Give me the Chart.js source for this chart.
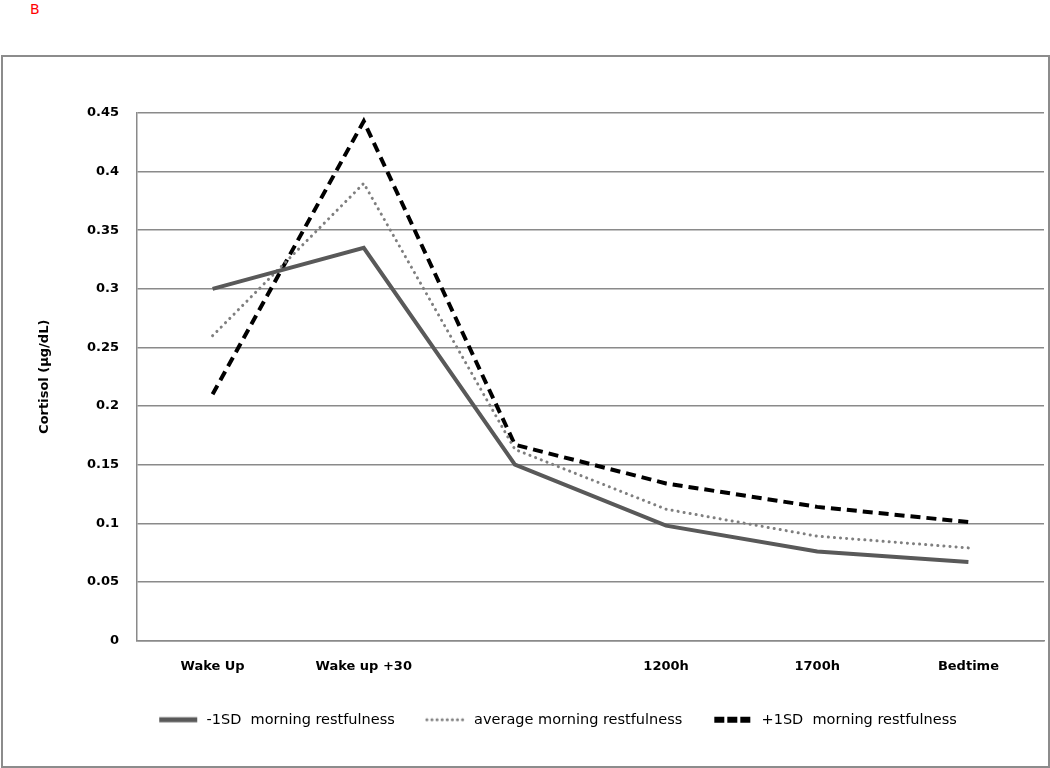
<!DOCTYPE html>
<html>
<head>
<meta charset="utf-8">
<script src="https://cdn.jsdelivr.net/npm/chart.js@4"></script>
<style>
    body { margin: 0; background: #fff; }
    #panel {
        position: absolute; left: 30px; top: 1px;
        font: 14px "DejaVu Sans", sans-serif; color: #ff0000;
    }
    #frame {
        position: absolute; left: 1px; top: 55px;
        width: 1045px; height: 709px;
        border: 2px solid #8c8c8c;
    }
    #wrap { position: absolute; left: 0; top: 0; width: 1050px; height: 768px; }
</style>
</head>
<body>
<div id="panel">B</div>
<div id="frame"></div>
<div id="wrap"><canvas id="cortisolChart"></canvas></div>
<script>
// Cortisol data
const timePoints = ['Wake Up', 'Wake up +30', '', '1200h', '1700h', 'Bedtime'];
const lowRest = [0.300, 0.335, 0.150, 0.098, 0.076, 0.067];
const avgRest = [0.260, 0.390, 0.163, 0.112, 0.089, 0.079];
const highRest = [0.210, 0.443, 0.167, 0.134, 0.114, 0.101];
const seriesNames = ['-1SD  morning restfulness', 'average morning restfulness', '+1SD  morning restfulness'];
const yTicks = [0, 0.05, 0.1, 0.15, 0.2, 0.25, 0.3, 0.35, 0.4, 0.45];

const gridGray = '#8a8a8a';
const fontFamily = '"DejaVu Sans", sans-serif';

// Small line sample used as the legend marker
function legendSwatch(color, width, dash, cap) {
    const c = document.createElement('canvas');
    c.width = 42;
    c.height = 10;
    const g = c.getContext('2d');
    g.strokeStyle = color;
    g.lineWidth = width;
    g.lineCap = cap;
    g.setLineDash(dash);
    g.beginPath();
    g.moveTo(2, 5);
    g.lineTo(40, 5);
    g.stroke();
    return c;
}

const swatches = [
    legendSwatch('#595959', 5, [], 'butt'),
    legendSwatch('#7f7f7f', 3, [0.1, 5], 'round'),
    legendSwatch('#000000', 6, [10, 3], 'butt')
];

function initializeCortisolChart() {
    const ctx = document.getElementById('cortisolChart').getContext('2d');

    new Chart(ctx, {
        type: 'line',
        data: {
            labels: timePoints,
            datasets: [
                {
                    label: seriesNames[0],
                    data: lowRest,
                    borderColor: '#595959',
                    backgroundColor: '#595959',
                    borderWidth: 4,
                    pointRadius: 0,
                    tension: 0
                },
                {
                    label: seriesNames[1],
                    data: avgRest,
                    borderColor: '#7f7f7f',
                    backgroundColor: '#7f7f7f',
                    borderWidth: 3,
                    borderDash: [0.1, 6],
                    borderCapStyle: 'round',
                    pointRadius: 0,
                    tension: 0
                },
                {
                    label: seriesNames[2],
                    data: highRest,
                    borderColor: '#000000',
                    backgroundColor: '#000000',
                    borderWidth: 4,
                    borderDash: [10, 6],
                    pointRadius: 0,
                    tension: 0
                }
            ]
        },
        options: {
            responsive: true,
            maintainAspectRatio: false,
            animation: false,
            layout: {
                padding: { left: 70, top: 113, right: 6, bottom: 31 }
            },
            scales: {
                x: {
                    offset: true,
                    grid: { display: false, offset: true },
                    border: { display: true, color: gridGray, width: 1.5 },
                    ticks: {
                        color: '#000',
                        padding: 10,
                        maxRotation: 0,
                        autoSkip: false,
                        font: { family: fontFamily, size: 13, weight: 'bold' }
                    },
                    afterFit: (scale) => { scale.height = 42; }
                },
                y: {
                    min: 0,
                    max: 0.45,
                    afterBuildTicks: (scale) => {
                        scale.ticks = yTicks.map(v => ({ value: v }));
                    },
                    grid: { color: gridGray, lineWidth: 1.5, drawTicks: false },
                    border: { display: true, color: gridGray, width: 1.5 },
                    ticks: {
                        color: '#000',
                        padding: 18,
                        font: { family: fontFamily, size: 13, weight: 'bold' },
                        callback: (v) => String(+Number(v).toFixed(2))
                    },
                    title: {
                        display: true,
                        text: 'Cortisol (µg/dL)',
                        color: '#000',
                        padding: { top: -33, bottom: 0 },
                        font: { family: fontFamily, size: 13, weight: 'bold' }
                    },
                    afterFit: (scale) => { scale.width = 67; }
                }
            },
            plugins: {
                legend: {
                    position: 'bottom',
                    labels: {
                        color: '#000',
                        usePointStyle: true,
                        pointStyleWidth: 42,
                        padding: 30,
                        font: { family: fontFamily, size: 14.5 },
                        generateLabels: (chart) => {
                            const items = Chart.defaults.plugins.legend.labels.generateLabels(chart);
                            items.forEach((item, i) => { item.pointStyle = swatches[i]; });
                            return items;
                        }
                    }
                },
                tooltip: { enabled: false }
            }
        }
    });
}

document.addEventListener('DOMContentLoaded', initializeCortisolChart);
</script>
</body>
</html>
